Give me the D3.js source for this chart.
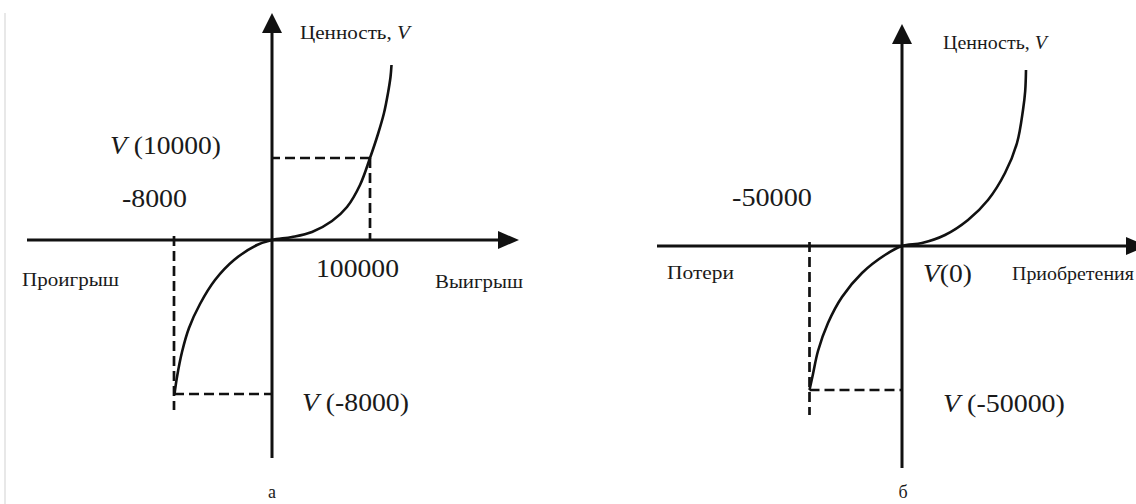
<!DOCTYPE html>
<html>
<head>
<meta charset="utf-8">
<script src="https://cdn.jsdelivr.net/npm/d3@7/dist/d3.min.js"></script>
<style>
  body { margin: 0; background: #fff; }
  svg { display: block; }
  text { font-family: "Liberation Serif", "Times New Roman", serif; fill: #1a1a1a; }
</style>
</head>
<body>
<svg width="1136" height="504"></svg>
<script>
// Panel а: schematic value curve (gain/loss, value)
const gainsA  = [-9.75, -9.5, -9.0, -8.3, -7.2, -5.7, -3.8, -1.5, 0, 2.0, 4.0, 6.0, 7.5, 8.8, 9.8, 10.6, 11.2, 11.6, 11.85, 11.95];
const valuesA = [-15.4, -13.7, -11.2, -8.8, -6.4, -4.0, -2.0, -0.5, 0, 0.3, 0.8, 1.9, 3.3, 5.5, 8.2, 10.6, 12.7, 14.7, 16.3, 17.5];
// Panel б
const gainsB  = [-9.25, -8.9, -8.4, -7.4, -6.0, -4.0, -1.7, 0, 2.0, 4.3, 6.6, 8.6, 10.3, 11.5, 12.1, 12.32, 12.4];
const valuesB = [-14.4, -12.8, -10.5, -7.7, -5.1, -2.7, -0.9, 0, 0.3, 1.1, 2.6, 4.6, 7.3, 10.3, 13.6, 15.5, 17.6];

// dashed guide points: [loss, gain] on x, matching values on V
const guideXA = [-9.8, 9.8];
const guideVA = [-15.4, 8.2];
const guideXB = [-9.25];
const guideVB = [-14.4];

// texts
const valueTitles = ['Ценность, V', 'Ценность, V'];
const sideTitlesA = ['Проигрыш', 'Выигрыш'];
const sideTitlesB = ['Потери', 'Приобретения'];
const markLabelsA = ['V (10000)', '-8000', '100000', 'V (-8000)'];
const markLabelsB = ['-50000', 'V(0)', 'V (-50000)'];
const captions = ['а', 'б'];

const svg = d3.select('svg');
const INK = '#111';

// faint scan border on the left
svg.append('line')
    .attr('x1', 5).attr('x2', 5).attr('y1', 13).attr('y2', 504)
    .style('stroke', '#e8e8e8').style('stroke-width', 2);

function drawPanel(x, y, gains, values, guideX, guideV, guideBottom) {
    const g = svg.append('g');
    const [x0, x1] = x.domain();
    const [y0, y1] = y.domain();

    // axes with arrow heads
    g.append('line')
        .attr('x1', x(x0)).attr('x2', x(x1) - 18)
        .attr('y1', y(0)).attr('y2', y(0))
        .style('stroke', INK).style('stroke-width', 3);
    g.append('path')
        .attr('d', `M${x(x1)},${y(0)} L${x(x1) - 21},${y(0) - 9} L${x(x1) - 21},${y(0) + 9} Z`)
        .style('fill', INK);
    g.append('line')
        .attr('x1', x(0)).attr('x2', x(0))
        .attr('y1', y(y0)).attr('y2', y(y1) + 17)
        .style('stroke', INK).style('stroke-width', 3);
    g.append('path')
        .attr('d', `M${x(0)},${y(y1)} L${x(0) - 10},${y(y1) + 20} L${x(0) + 10},${y(y1) + 20} Z`)
        .style('fill', INK);

    // dashed guides
    const dash = l => l.style('stroke', INK).style('stroke-width', 2.7).style('stroke-dasharray', '10,5');
    guideX.forEach((gx, i) => {
        const gv = guideV[i];
        if (gx < 0) {
            dash(g.append('line')
                .attr('x1', x(gx)).attr('x2', x(gx))
                .attr('y1', y(0.4)).attr('y2', y(guideBottom)));
        } else {
            dash(g.append('line')
                .attr('x1', x(gx)).attr('x2', x(gx))
                .attr('y1', y(gv)).attr('y2', y(0)));
        }
        dash(g.append('line')
            .attr('x1', x(gx)).attr('x2', x(0))
            .attr('y1', y(gv)).attr('y2', y(gv)));
    });

    // the value curve
    const pts = gains.map((d, i) => [d, values[i]]);
    g.append('path')
        .datum(pts)
        .attr('d', d3.line()
            .x(d => x(d[0]))
            .y(d => y(d[1]))
            .curve(d3.curveCatmullRom.alpha(0.5)))
        .style('fill', 'none')
        .style('stroke', INK)
        .style('stroke-width', 2.6);
}

// text with italic V, stretched to the width seen in the scan
function addLabel(str, px, cy, w, size, anchor) {
    const t = svg.append('text')
        .attr('dy', '0.34em')
        .style('font-size', size + 'px')
        .style('text-anchor', anchor || 'start');
    str.split(/(V)/).forEach(p => {
        if (p === '') return;
        t.append('tspan').text(p).style('font-style', p === 'V' ? 'italic' : 'normal');
    });
    const len = t.node().getComputedTextLength();
    const sx = w ? w / len : 1;
    t.attr('transform', `translate(${px},${cy}) scale(${sx},1)`);
}

const xA = d3.scaleLinear().domain([-24.5, 24.7]).range([27, 519]);
const yA = d3.scaleLinear().domain([-21.8, 22.7]).range([458, 13]);
const xB = d3.scaleLinear().domain([-24.5, 24.5]).range([657, 1147]);
const yB = d3.scaleLinear().domain([-22.2, 22.2]).range([468, 24]);

drawPanel(xA, yA, gainsA, valuesA, guideXA, guideVA, -17.0);
drawPanel(xB, yB, gainsB, valuesB, guideXB, guideVB, -16.9);

// panel а texts
addLabel(valueTitles[0], 300, 33, 110, 18);
addLabel(markLabelsA[0], 110, 145, 111, 25);
addLabel(markLabelsA[1], 122, 198, 65, 25);
addLabel(markLabelsA[2], 316, 268, 83, 25);
addLabel(sideTitlesA[0], 22, 280, 97, 18);
addLabel(sideTitlesA[1], 435, 282, 88, 18);
addLabel(markLabelsA[3], 302, 402, 107, 25);
addLabel(captions[0], 272, 492, 0, 18, 'middle');

// panel б texts
addLabel(valueTitles[1], 943, 43, 104, 18);
addLabel(markLabelsB[0], 732, 197, 80, 25);
addLabel(sideTitlesB[0], 667, 273, 67, 18);
addLabel(markLabelsB[1], 923, 273, 49, 25);
addLabel(sideTitlesB[1], 1012, 274, 122, 18);
addLabel(markLabelsB[2], 943, 403, 122, 25);
addLabel(captions[1], 903, 492, 0, 18, 'middle');
</script>
</body>
</html>
